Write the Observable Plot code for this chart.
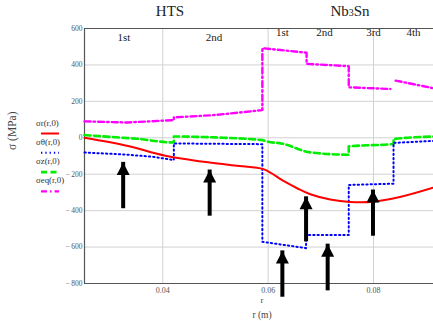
<!DOCTYPE html>
<html><head><meta charset="utf-8">
<script src="https://cdn.jsdelivr.net/npm/d3@7"></script>
<script src="https://cdn.jsdelivr.net/npm/@observablehq/plot@0.6"></script>
<style>
body{margin:0;background:#fff;}
#wrap{position:relative;width:433px;height:321px;font-family:"Liberation Serif","Times New Roman",serif;}
#wrap svg, #wrap svg text{font-family:"Liberation Serif","Times New Roman",serif !important;}
.title{position:absolute;font-size:15px;color:#222;transform:translateX(-50%);top:3px;white-space:nowrap;}
#legend{position:absolute;left:0;top:0;pointer-events:none;}
</style></head><body><div id="wrap"></div>
<script>
// radial stress sigma_r
const rR = [0.02514, 0.0334, 0.0403, 0.0489, 0.0545, 0.0591, 0.0629, 0.0655, 0.068, 0.0718, 0.0756, 0.0799, 0.085, 0.0913];
const sR = [0, -45, -97, -136, -155, -172, -237, -277, -310, -339, -352, -351, -325, -274];
// hoop stress sigma_theta
const rT = [0.02514, 0.033, 0.038, 0.0421, 0.0421, 0.050, 0.0589, 0.0589, 0.0672, 0.0672, 0.0753, 0.0753, 0.0838, 0.0838, 0.0914];
const sT = [-81, -92, -104, -122, -31, -33, -35, -571, -606, -534, -534, -259, -252, -28, -17];
// axial stress sigma_z
const rZ = [0.02514, 0.030, 0.035, 0.0421, 0.0421, 0.050, 0.0589, 0.0600, 0.0625, 0.068, 0.0753, 0.0753, 0.0838, 0.0838, 0.0914];
const sZ = [15, 5, -5, -26, 7, 2, -13, -22, -31, -80, -93, -47, -34, -7, 7];
// equivalent stress sigma_eq
const rE = [0.02514, 0.0333, 0.0421, 0.0421, 0.050, 0.0589, 0.0589, 0.0673, 0.0673, 0.0753, 0.0753, 0.0832, 0.0837, 0.0842, 0.0914];
const sE = [90, 84, 97, 112, 125, 152, 492, 467, 406, 393, 277, 268, null, 314, 272];

// arrows (position, tip, base)
const arrowR = [0.03248, 0.0489, 0.0672, 0.0627, 0.0713, 0.0799];
const arrowTip = [-135, -177, -324, -621, -584, -287];
const arrowBase = [-351, -392, -533, -837, -802, -502];

// layer labels
const segLabels = ["1st", "2nd", "1st", "2nd", "3rd", "4th"];
const segR = [0.0326, 0.0497, 0.0627, 0.0707, 0.0800, 0.0876];
const segY = [551, 551, 576, 576, 576, 576];

const xTicks = [0.04, 0.06, 0.08];
const yTicks = [600, 400, 200, 0, -200, -400, -600, -800];
const legendLabels = ["σr(r,0)", "σθ(r,0)", "σz(r,0)", "σeq(r,0)"];

const x0 = 0.02514, x1 = 0.09139;
const toRows = (rs, ss) => rs.map((r, i) => ({r, s: ss[i]}));

const styles = [
  {stroke: "#ff0000", strokeWidth: 2},
  {stroke: "#0000ff", strokeWidth: 2, strokeDasharray: "1.3,3"},
  {stroke: "#00ee00", strokeWidth: 2.6, strokeDasharray: "6,3.5"},
  {stroke: "#ff00ff", strokeWidth: 2.4, strokeDasharray: "6,3,1.6,3"}
];

const arrowHead = {draw(ctx) { ctx.moveTo(0, 0); ctx.lineTo(-6.5, 12.5); ctx.lineTo(6.5, 12.5); ctx.closePath(); }};
const arrows = arrowR.map((r, i) => ({r, tip: arrowTip[i], base: arrowBase[i]}));
const segs = segLabels.map((t, i) => ({t, r: segR[i], y: segY[i]}));

const plot = Plot.plot({
  width: 433, height: 321,
  marginLeft: 84, marginRight: 0, marginTop: 28, marginBottom: 38,
  style: {fontFamily: "'Liberation Serif', 'Times New Roman', serif", fontSize: "8px", color: "#555", background: "white", overflow: "visible"},
  x: {domain: [x0, x1]},
  y: {domain: [-800, 600]},
  marks: [
    Plot.gridX(xTicks, {stroke: "#d2d2d2", strokeOpacity: 1}),
    Plot.gridY(yTicks.filter(v => v > -800 && v < 600), {stroke: "#d2d2d2", strokeOpacity: 1}),
    Plot.axisX(xTicks, {tickSize: 0, tickPadding: 4, tickFormat: d => d.toFixed(2), label: null, fill: "#555", fontSize: 8}),
    Plot.axisY(yTicks, {tickSize: 0, tickPadding: 2, tickFormat: d => d < 0 ? "−\u2009" + (-d) : String(d), label: null, fill: "#555", fontSize: 7.5}),
    Plot.ruleY([600, -800], {stroke: "#555", strokeWidth: 1.2}),
    Plot.ruleX([x0], {stroke: "#555", strokeWidth: 1.2}),
    Plot.line(toRows(rE, sE), {x: "r", y: "s", ...styles[3]}),
    Plot.line(toRows(rZ, sZ), {x: "r", y: "s", ...styles[2], curve: "monotone-x"}),
    Plot.line(toRows(rT, sT), {x: "r", y: "s", ...styles[1]}),
    Plot.line(toRows(rR, sR), {x: "r", y: "s", ...styles[0], curve: "catmull-rom"}),
    Plot.ruleX(arrows, {x: "r", y1: "base", y2: "tip", stroke: "black", strokeWidth: 4, insetTop: 7}),
    Plot.dot(arrows, {x: "r", y: "tip", symbol: arrowHead, fill: "black", stroke: "none", r: 6}),
    Plot.text(segs, {x: "r", y: "y", text: "t", fontSize: 11, fill: "#222"}),
    Plot.text(["σ (MPa)"], {frameAnchor: "left", dx: -72, dy: -6, rotate: -90, fontSize: 11.5, fill: "#444"}),
    Plot.text(["r"], {frameAnchor: "bottom", dx: 3, dy: 19, fontSize: 9, fill: "#444"}),
    Plot.text(["r (m)"], {frameAnchor: "bottom", dx: 3, dy: 34, fontSize: 9.5, fill: "#444"})
  ]
});

const wrap = document.getElementById("wrap");
wrap.appendChild(plot);

const t1 = document.createElement("div");
t1.className = "title"; t1.style.left = "170px"; t1.textContent = "HTS";
wrap.appendChild(t1);
const t2 = document.createElement("div");
t2.className = "title"; t2.style.left = "350px";
t2.innerHTML = 'Nb<span style="font-size:10px">3</span>Sn';
wrap.appendChild(t2);

// legend overlay
const lg = d3.select(wrap).append("svg").attr("id", "legend").attr("width", 84).attr("height", 321);
legendLabels.forEach((lab, i) => {
  const ty = 124 + i * 19, ly = 133.5 + i * 19.3;
  lg.append("text").attr("x", 36).attr("y", ty).attr("dominant-baseline", "middle")
    .attr("font-size", 8.8).attr("fill", "#333").text(lab);
  const st = styles[i];
  lg.append("line").attr("x1", 41).attr("x2", 59).attr("y1", ly).attr("y2", ly)
    .attr("stroke", st.stroke).attr("stroke-width", st.strokeWidth)
    .attr("stroke-dasharray", st.strokeDasharray || null);
});
</script>
</body></html>
